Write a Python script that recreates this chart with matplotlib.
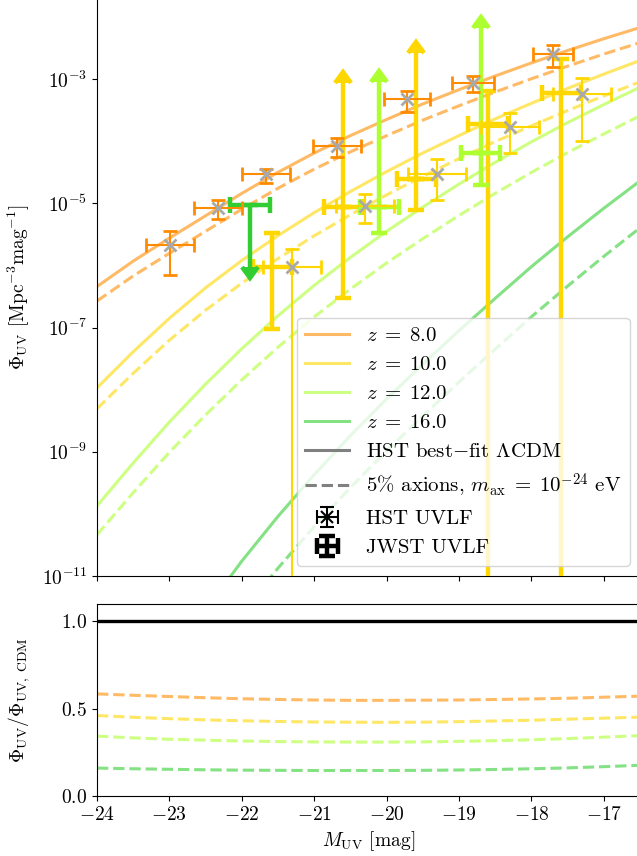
import numpy as np
import matplotlib
matplotlib.use("Agg")
import matplotlib.pyplot as plt
from matplotlib.lines import Line2D
from matplotlib import ticker

plt.rcParams.update({
    "font.family": "serif",
    "font.serif": ["cmr10"],
    "mathtext.fontset": "cm",
    "axes.formatter.use_mathtext": True,
    "font.size": 14,
})

# ---------------------------------------------------------------- model curves
M_grid = [-24.0, -23.5, -23.0, -22.5, -22.0, -21.5, -21.0, -20.5,
          -20.0, -19.5, -19.0, -18.5, -18.0, -17.5, -17.0, -16.5]

# log10 Phi_UV for the best-fit LCDM model
log_phi_cdm_z8 = [-6.34, -5.93, -5.56, -5.20, -4.84, -4.50, -4.19, -3.91,
                  -3.65, -3.40, -3.17, -2.95, -2.74, -2.54, -2.35, -2.17]
log_phi_cdm_z10 = [-7.97, -7.39, -6.85, -6.36, -5.92, -5.52, -5.15, -4.81,
                   -4.49, -4.19, -3.91, -3.64, -3.39, -3.15, -2.92, -2.70]
log_phi_cdm_z12 = [-9.87, -9.18, -8.52, -7.91, -7.34, -6.81, -6.32, -5.87,
                   -5.45, -5.06, -4.69, -4.34, -4.01, -3.70, -3.41, -3.13]
log_phi_cdm_z16 = [-14.15, -13.25, -12.38, -11.55, -10.76, -10.04, -9.37, -8.74,
                   -8.15, -7.59, -7.05, -6.53, -6.02, -5.54, -5.08, -4.64]

# Phi_axion / Phi_CDM for 5% axions with m = 1e-24 eV
ratio_z8 = [0.585, 0.577, 0.570, 0.563, 0.557, 0.553, 0.550, 0.548,
            0.548, 0.549, 0.550, 0.553, 0.556, 0.560, 0.566, 0.572]
ratio_z10 = [0.461, 0.451, 0.443, 0.436, 0.431, 0.427, 0.424, 0.423,
             0.422, 0.423, 0.426, 0.430, 0.434, 0.440, 0.446, 0.452]
ratio_z12 = [0.343, 0.333, 0.325, 0.320, 0.315, 0.312, 0.310, 0.309,
             0.309, 0.310, 0.313, 0.317, 0.322, 0.329, 0.337, 0.346]
ratio_z16 = [0.160, 0.156, 0.153, 0.150, 0.148, 0.147, 0.146, 0.146,
             0.146, 0.147, 0.149, 0.152, 0.156, 0.161, 0.168, 0.176]

redshifts = [8.0, 10.0, 12.0, 16.0]
colors = ["darkorange", "gold", "greenyellow", "limegreen"]

# ---------------------------------------------------------------- HST data
hst_z8_M = [-22.99, -22.33, -21.67, -20.69, -19.72, -18.81, -17.70]
hst_z8_dM = [0.33, 0.33, 0.33, 0.33, 0.32, 0.29, 0.28]
hst_z8_phi = [2.1e-6, 8.3e-6, 2.95e-5, 8.3e-5, 4.8e-4, 8.7e-4, 2.5e-3]
hst_z8_lo = [6.9e-7, 5.5e-6, 2.1e-5, 5.5e-5, 3.0e-4, 6.2e-4, 1.55e-3]
hst_z8_hi = [3.55e-6, 1.12e-5, 3.6e-5, 1.12e-4, 6.5e-4, 1.12e-3, 3.55e-3]

hst_z10_M = [-21.31, -20.30, -19.30, -18.30, -17.30]
hst_z10_dM = [0.40, 0.40, 0.40, 0.40, 0.40]
hst_z10_phi = [9.3e-7, 8.9e-6, 3.0e-5, 1.7e-4, 5.75e-4]
hst_z10_lo = [0.0, 4.8e-6, 1.12e-5, 6.5e-5, 1.0e-4]
hst_z10_hi = [1.86e-6, 1.41e-5, 5.1e-5, 2.8e-4, 1.05e-3]

# ---------------------------------------------------------------- JWST data
jwst_z10_M = [-21.58, -20.60, -19.59, -18.60, -17.59]
jwst_z10_dM = [0.27, 0.27, 0.27, 0.27, 0.27]
jwst_z10_phi = [9.5e-7, 8.7e-6, 2.5e-5, 1.86e-4, 5.9e-4]
jwst_z10_lo = [9.5e-8, 2.95e-7, 7.9e-6, 0.0, 0.0]
jwst_z10_hi = [3.3e-6, 8.7e-4, 2.6e-3, 6.5e-4, 2.1e-3]
jwst_z10_lowerlimit = [False, True, True, False, False]

jwst_z12_M = [-20.10, -18.70]
jwst_z12_dM = [0.27, 0.27]
jwst_z12_phi = [8.7e-6, 6.5e-5]
jwst_z12_lo = [3.3e-6, 1.95e-5]
jwst_z12_hi = [8.9e-4, 6.6e-3]

jwst_z16_M = [-21.89]
jwst_z16_dM = [0.28]
jwst_z16_phi = [9.5e-6]
jwst_z16_lo = [9.3e-7]

# ---------------------------------------------------------------- figure
fig = plt.figure(figsize=(6.37, 8.56), dpi=100)
ax1 = fig.add_axes([0.1523, 0.3271, 0.8524, 0.6749])
ax2 = fig.add_axes([0.1523, 0.0701, 0.8524, 0.2243], sharex=ax1)

M = np.array(M_grid)
cdm = [log_phi_cdm_z8, log_phi_cdm_z10, log_phi_cdm_z12, log_phi_cdm_z16]
ratios = [ratio_z8, ratio_z10, ratio_z12, ratio_z16]

curve_lw = 2.2
for logphi, rat, col in zip(cdm, ratios, colors):
    phi = 10.0 ** np.array(logphi)
    ax1.plot(M, phi, color=col, alpha=0.6, lw=curve_lw, zorder=1)
    ax1.plot(M, phi * np.array(rat), color=col, alpha=0.6, lw=curve_lw,
             ls="--", zorder=1)
    ax2.plot(M, rat, color=col, alpha=0.6, lw=curve_lw, ls="--")

ax2.axhline(1.0, color="black", lw=2.4)

jw_style = dict(fmt="none", elinewidth=3.2, capsize=5.5, capthick=3.2, zorder=3)
hst_style = dict(fmt="x", elinewidth=1.5, capsize=5, capthick=1.5,
                 markeredgecolor="darkgrey", markersize=8, markeredgewidth=2,
                 zorder=4)


def asym(phi, lo, hi):
    phi = np.array(phi)
    return [phi - np.array(lo), np.array(hi) - phi]


# JWST z=10: ordinary points
lim = np.array(jwst_z10_lowerlimit)
jM = np.array(jwst_z10_M)
jdM = np.array(jwst_z10_dM)
jphi = np.array(jwst_z10_phi)
jlo = np.array(jwst_z10_lo)
jhi = np.array(jwst_z10_hi)
ok = ~lim
ax1.errorbar(jM[ok], jphi[ok], xerr=jdM[ok],
             yerr=asym(jphi[ok], jlo[ok], jhi[ok]), color="gold", **jw_style)
# JWST z=10: points whose upper side is a lower limit
ax1.errorbar(jM[lim], jphi[lim], xerr=jdM[lim],
             yerr=[jphi[lim] - jlo[lim], np.zeros(lim.sum())],
             color="gold", **jw_style)
ax1.errorbar(jM[lim], jphi[lim], yerr=[np.zeros(lim.sum()), jhi[lim] - jphi[lim]],
             lolims=True, color="gold", **jw_style)

# JWST z=12 (all lower limits on the upper side)
z12phi = np.array(jwst_z12_phi)
ax1.errorbar(jwst_z12_M, z12phi, xerr=jwst_z12_dM,
             yerr=[z12phi - np.array(jwst_z12_lo), np.zeros(2)],
             color="greenyellow", **jw_style)
ax1.errorbar(jwst_z12_M, z12phi,
             yerr=[np.zeros(2), np.array(jwst_z12_hi) - z12phi],
             lolims=True, color="greenyellow", **jw_style)

# JWST z=16 upper limit
z16phi = np.array(jwst_z16_phi)
ax1.errorbar(jwst_z16_M, z16phi, xerr=jwst_z16_dM,
             yerr=[z16phi - np.array(jwst_z16_lo)], uplims=True,
             color="limegreen", **jw_style)

# HST points
ax1.errorbar(hst_z8_M, hst_z8_phi, xerr=hst_z8_dM,
             yerr=asym(hst_z8_phi, hst_z8_lo, hst_z8_hi),
             color="darkorange", **hst_style)
ax1.errorbar(hst_z10_M, hst_z10_phi, xerr=hst_z10_dM,
             yerr=asym(hst_z10_phi, hst_z10_lo, hst_z10_hi),
             color="gold", **hst_style)

# ---------------------------------------------------------------- axes
ax1.set_yscale("log")
ax1.set_xlim(-24, -16.5)
ax1.set_ylim(1e-11, 2e-2)
ax1.yaxis.set_major_locator(ticker.FixedLocator([1e-11, 1e-9, 1e-7, 1e-5, 1e-3]))
ax1.yaxis.set_major_formatter(ticker.LogFormatterSciNotation())
ax1.yaxis.set_minor_locator(ticker.NullLocator())
ax1.tick_params(axis="x", labelbottom=False)
ax1.set_ylabel(r"$\Phi_{\rm UV}$ [Mpc$^{-3}$mag$^{-1}$]")

ax2.set_ylim(0, 1.1)
ax2.set_yticks([0.0, 0.5, 1.0])
ax2.xaxis.set_major_locator(ticker.MultipleLocator(1))
ax2.set_xlabel(r"$M_{\rm UV}$ [mag]")
ax2.set_ylabel(r"$\Phi_{\rm UV}/\Phi_{\rm UV,\ CDM}$")
for ax in (ax1, ax2):
    ax.yaxis.set_label_coords(-0.12, 0.5)

# ---------------------------------------------------------------- legend
handles = [Line2D([], [], color=c, alpha=0.6, lw=curve_lw) for c in colors]
labels = [rf"$z\;=\;{z:.1f}$" for z in redshifts]
handles.append(Line2D([], [], color="grey", lw=curve_lw))
labels.append(r"HST best$-$fit $\Lambda$CDM")
handles.append(Line2D([], [], color="grey", lw=curve_lw, ls="--"))
labels.append(r"5% axions, $m_{\rm ax}\;=\;10^{-24}$ eV")
h_hst = ax1.errorbar([np.nan], [np.nan], xerr=[1], yerr=[1], fmt="x",
                     color="black", elinewidth=1.5, capsize=5, capthick=1.5,
                     markersize=8, markeredgewidth=1.5)
h_jw = ax1.errorbar([np.nan], [np.nan], xerr=[1], yerr=[1], fmt="none",
                    color="black", elinewidth=3.2, capsize=5.5, capthick=3.2)
handles += [h_hst, h_jw]
labels += ["HST UVLF", "JWST UVLF"]
ax1.legend(handles, labels, loc="lower right", handlelength=2.1,
           fontsize=15, labelspacing=0.5)

fig.savefig("out.png", dpi=100)
